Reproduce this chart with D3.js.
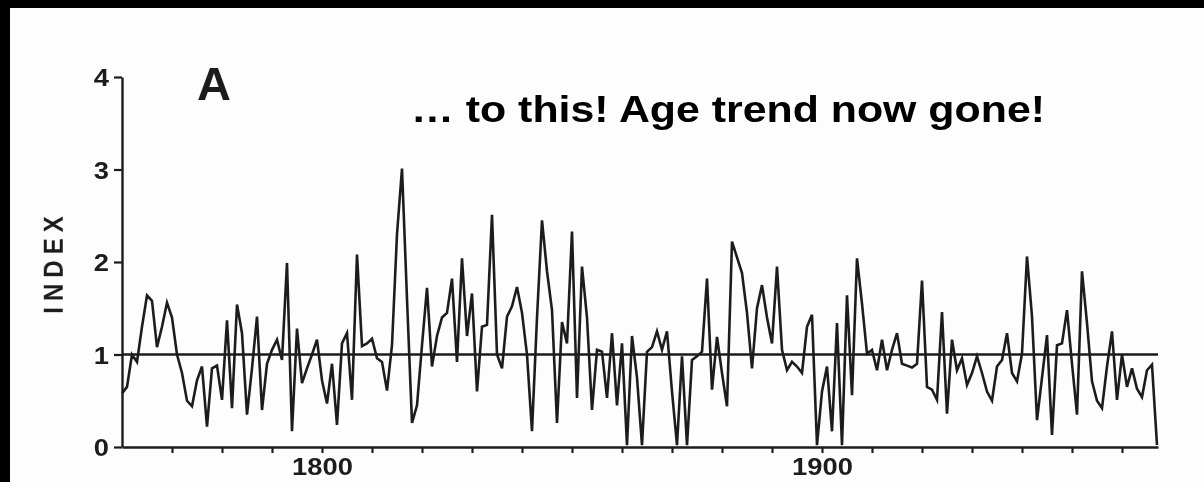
<!DOCTYPE html>
<html>
<head>
<meta charset="utf-8">
<script src="https://cdn.jsdelivr.net/npm/d3@7"></script>
<style>
  html, body { margin: 0; padding: 0; background: #ffffff; }
  svg { display: block; }
</style>
</head>
<body>
<svg id="chart" width="1204" height="482"></svg>
<script>
// Ring-width index, one value per year starting at firstYear
const firstYear = 1760;
const indexValues = [
  0.58, 0.65, 1.00, 0.92, 1.30, 1.64, 1.58, 1.08, 1.30, 1.56,
  1.40, 1.00, 0.80, 0.50, 0.44, 0.72, 0.87, 0.22, 0.85, 0.88,
  0.51, 1.37, 0.42, 1.54, 1.23, 0.35, 0.85, 1.41, 0.40, 0.90,
  1.05, 1.16, 0.94, 1.99, 0.17, 1.28, 0.69, 0.85, 1.00, 1.16,
  0.72, 0.47, 0.90, 0.24, 1.12, 1.23, 0.51, 2.08, 1.09, 1.12,
  1.17, 0.96, 0.92, 0.61, 1.10, 2.30, 3.01, 1.60, 0.26, 0.45,
  1.10, 1.72, 0.87, 1.20, 1.40, 1.45, 1.82, 0.92, 2.04, 1.20,
  1.66, 0.60, 1.30, 1.32, 2.51, 1.00, 0.85, 1.41, 1.52, 1.73,
  1.45, 1.00, 0.17, 1.40, 2.45, 1.90, 1.48, 0.26, 1.35, 1.12,
  2.33, 0.53, 1.95, 1.40, 0.40, 1.05, 1.03, 0.53, 1.23, 0.45,
  1.12, 0.02, 1.20, 0.75, 0.02, 1.03, 1.08, 1.25, 1.05, 1.25,
  0.60, 0.02, 0.98, 0.02, 0.94, 0.98, 1.03, 1.82, 0.62, 1.19,
  0.80, 0.44, 2.22, 2.05, 1.88, 1.45, 0.85, 1.50, 1.75, 1.40,
  1.12, 1.95, 1.05, 0.83, 0.92, 0.87, 0.80, 1.30, 1.43, 0.02,
  0.60, 0.87, 0.17, 1.34, 0.02, 1.64, 0.56, 2.04, 1.55, 1.01,
  1.05, 0.83, 1.16, 0.83, 1.05, 1.23, 0.90, 0.88, 0.86, 0.90,
  1.80, 0.65, 0.62, 0.51, 1.46, 0.36, 1.16, 0.83, 0.96, 0.67,
  0.80, 0.98, 0.80, 0.60, 0.50, 0.87, 0.94, 1.23, 0.80, 0.71,
  1.01, 2.06, 1.41, 0.29, 0.75, 1.21, 0.13, 1.10, 1.12, 1.48,
  0.90, 0.35, 1.90, 1.34, 0.71, 0.50, 0.42, 0.87, 1.25, 0.51,
  1.00, 0.65, 0.85, 0.63, 0.54, 0.83, 0.89, 0.02
];
const years = indexValues.map((_, i) => firstYear + i);

const yTicks = [0, 1, 2, 3, 4];
const xTicks = [1770, 1780, 1790, 1800, 1810, 1820, 1830, 1840, 1850, 1860,
                1870, 1880, 1890, 1900, 1910, 1920, 1930, 1940, 1950, 1960];
const xTickLabels = [1800, 1900];
const referenceLevel = 1;

const titleText = "\u2026 to this! Age trend now gone!";
const panelLabel = "A";
const yAxisLabel = "INDEX";

const svg = d3.select("#chart");
const W = 1204, H = 482;
const ink = "#1e1e1e";
const labelFont = "'Liberation Sans', Arial, Helvetica, sans-serif";
const stretch = 1.14;

svg.append("rect").attr("width", W).attr("height", H).attr("fill", "#fdfdfd");

// the printed figure is slightly soft
const defs = svg.append("defs");
defs.append("filter").attr("id", "soft")
  .append("feGaussianBlur").attr("stdDeviation", 0.45);

const plot = svg.append("g").attr("filter", "url(#soft)");

const x = d3.scaleLinear().domain([1760, 1967.2]).range([122, 1158]);
const y = d3.scaleLinear().domain([0, 4]).range([447, 77]);

// y axis
const yAxis = plot.append("g")
  .attr("transform", `translate(${x(1760)},0)`)
  .call(d3.axisLeft(y).tickValues(yTicks).tickSize(8).tickSizeOuter(0).tickFormat(d3.format("d")));
yAxis.select(".domain").attr("stroke", ink).attr("stroke-width", 2.4);
yAxis.selectAll(".tick line").attr("stroke", ink).attr("stroke-width", 2.2);
yAxis.selectAll(".tick text")
  .attr("x", 0).attr("dy", "0.36em")
  .attr("transform", `translate(-13,0) scale(${stretch},1)`)
  .attr("text-anchor", "end")
  .attr("fill", ink)
  .style("font-family", labelFont)
  .style("font-weight", "bold")
  .style("font-size", "24px");

// x axis
const xAxis = plot.append("g")
  .attr("transform", `translate(0,${y(0)})`)
  .call(d3.axisBottom(x).tickValues(xTicks).tickSize(6).tickSizeOuter(0)
    .tickFormat(d => xTickLabels.includes(d) ? String(d) : ""));
xAxis.select(".domain").attr("stroke", ink).attr("stroke-width", 2.4);
xAxis.selectAll(".tick line").attr("stroke", ink).attr("stroke-width", 2.2);
xAxis.selectAll(".tick text")
  .attr("y", 0).attr("dy", 0)
  .attr("transform", `translate(0,28) scale(${stretch},1)`)
  .attr("text-anchor", "middle")
  .attr("fill", ink)
  .style("font-family", labelFont)
  .style("font-weight", "bold")
  .style("font-size", "24px");
plot.selectAll(".domain").attr("fill", "none");

// reference line at index 1
plot.append("line")
  .attr("x1", x(1760)).attr("x2", x(1967.2))
  .attr("y1", y(referenceLevel)).attr("y2", y(referenceLevel))
  .attr("stroke", ink).attr("stroke-width", 2.3);

// index series
const line = d3.line()
  .x((d, i) => x(years[i]))
  .y(d => y(d));
plot.append("path")
  .datum(indexValues)
  .attr("d", line)
  .attr("fill", "none")
  .attr("stroke", ink)
  .attr("stroke-width", 2.6)
  .attr("stroke-linejoin", "miter")
  .attr("stroke-miterlimit", 4);

// axis title
plot.append("text")
  .attr("transform", `translate(63,262) scale(${stretch},1) rotate(-90)`)
  .attr("text-anchor", "middle")
  .attr("fill", ink)
  .style("font-family", labelFont)
  .style("font-weight", "bold")
  .style("font-size", "24px")
  .style("letter-spacing", "6px")
  .text(yAxisLabel);

// panel letter
plot.append("text")
  .attr("x", 214).attr("y", 100)
  .attr("text-anchor", "middle")
  .attr("fill", ink)
  .style("font-family", labelFont)
  .style("font-weight", "bold")
  .style("font-size", "47px")
  .text(panelLabel);

// headline
svg.append("text")
  .attr("x", 411).attr("y", 122)
  .attr("textLength", 634)
  .attr("lengthAdjust", "spacingAndGlyphs")
  .attr("fill", "#000")
  .style("font-family", "'Liberation Sans', Arial, Helvetica, sans-serif")
  .style("font-weight", "bold")
  .style("font-size", "37px")
  .text(titleText);

// dark scan border on top and left
svg.append("rect").attr("x", 0).attr("y", 0).attr("width", W).attr("height", 8).attr("fill", "#000");
svg.append("rect").attr("x", 0).attr("y", 0).attr("width", 10).attr("height", H).attr("fill", "#000");
</script>
</body>
</html>
